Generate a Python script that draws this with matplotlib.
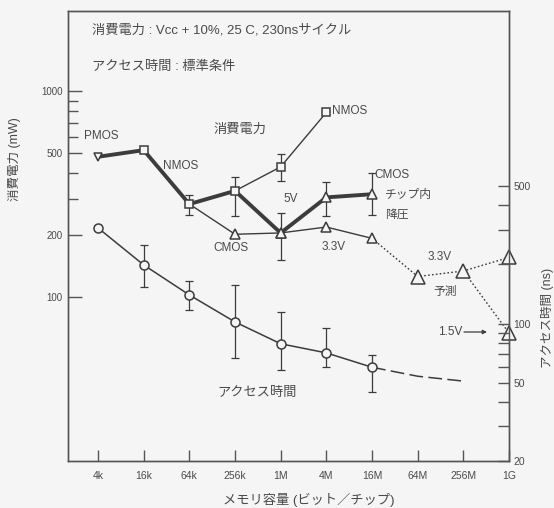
import matplotlib
matplotlib.use("Agg")
import matplotlib.pyplot as plt
from matplotlib.ticker import FixedLocator, NullFormatter, FixedFormatter

plt.rcParams['font.family'] = ['Liberation Sans', 'Noto Sans CJK JP']

# ---- data -------------------------------------------------------------
capacity = ['4k', '16k', '64k', '256k', '1M', '4M', '16M', '64M', '256M', '1G']

# power (mW): main trend PMOS -> NMOS -> 5V CMOS
main_idx = [0, 1, 2, 3, 4, 5, 6]
main_pw = [480, 517, 283, 328, 205, 305, 316]
# NMOS branch
nmos_idx = [3, 4, 5]
nmos_pw = [328, 429, 788]
# 3.3V CMOS branch
cmos33_idx = [2, 3, 4, 5, 6]
cmos33_pw = [283, 202, 205, 219, 193]
# forecast (dotted)
fc33_idx = [6, 7, 8, 9]
fc33_pw = [193, 126, 134, 156]
fc15_idx = [8, 9]
fc15_pw = [134, 67]

# power spread
pw_err_idx = [2, 3, 4, 4, 5, 6]
pw_err_mid = [283, 328, 429, 205, 305, 316]
pw_err_lo = [250, 247, 367, 152, 247, 250]
pw_err_hi = [313, 384, 494, 256, 363, 399]

# access time (ns)
acc_idx = [0, 1, 2, 3, 4, 5, 6]
acc_ns = [307, 199, 140, 102, 79, 71, 60]
acc_lo = [307, 153, 117, 67, 58, 60, 45]
acc_hi = [307, 251, 164, 158, 114, 95, 69]
acc_fc_idx = [6, 7, 8]
acc_fc_ns = [60, 54, 51]

# ---- style ------------------------------------------------------------
bg = '#f5f5f5'
ink = '#3c3c3c'
txt = '#4a4a4a'
W, H = 554, 508

fig = plt.figure(figsize=(W / 100, H / 100), dpi=100, facecolor=bg)
ax = fig.add_axes([68 / W, 1 - 461 / H, (509 - 68) / W, (461 - 11) / H])
ax.set_facecolor(bg)
ax2 = ax.twinx()

ax.set_xlim(-0.657, 9.0)
ax.set_yscale('log')
ax.set_ylim(16.04, 2447)
ax2.set_yscale('log')
ax2.set_ylim(20, 3900)

for a in (ax, ax2):
    for s in a.spines.values():
        s.set_color('#555555')
        s.set_linewidth(1.0)

# x axis
ax.set_xticks(range(len(capacity)))
ax.set_xticklabels(capacity)
ax.tick_params(axis='x', direction='in', length=8, width=1, color='#555555',
               labelsize=7.5, labelcolor=txt, pad=7)

# left axis
ax.yaxis.set_major_locator(FixedLocator([100, 200, 500, 1000]))
ax.yaxis.set_major_formatter(FixedFormatter(['100', '200', '500', '1000']))
ax.yaxis.set_minor_locator(FixedLocator([300, 400, 600, 700, 800, 900]))
ax.yaxis.set_minor_formatter(NullFormatter())
ax.tick_params(axis='y', which='major', direction='in', length=10, width=1,
               color='#555555', labelsize=7, labelcolor=txt, pad=4)
ax.tick_params(axis='y', which='minor', direction='in', length=7, width=1,
               color='#555555')

# right axis
ax2.yaxis.set_major_locator(FixedLocator([20, 50, 100, 500]))
ax2.yaxis.set_major_formatter(FixedFormatter(['20', '50', '100', '500']))
ax2.yaxis.set_minor_locator(FixedLocator([30, 40, 60, 70, 80, 90, 200, 300, 400]))
ax2.yaxis.set_minor_formatter(NullFormatter())
ax2.tick_params(axis='y', which='major', direction='in', length=8, width=1,
                color='#555555', labelsize=7.5, labelcolor=txt, pad=3)
ax2.tick_params(axis='y', which='minor', direction='in', length=8, width=1,
                color='#555555')

mk = dict(markerfacecolor=bg, markeredgecolor=ink, markeredgewidth=1.1)

# ---- access time curve (right axis) -----------------------------------
ax2.errorbar(acc_idx[1:], acc_ns[1:],
             yerr=[[m - l for m, l in zip(acc_ns[1:], acc_lo[1:])],
                   [h - m for m, h in zip(acc_ns[1:], acc_hi[1:])]],
             fmt='none', ecolor=ink, elinewidth=0.9, capsize=3, capthick=0.9, zorder=2)
ax2.plot(acc_fc_idx, acc_fc_ns, color=ink, lw=1.1, ls=(0, (9, 3.5)), zorder=2)
ax2.plot(acc_idx, acc_ns, color=ink, lw=1.1, marker='o', ms=6.5, zorder=3, **mk)

# ---- power curves (left axis) -----------------------------------------
ax.errorbar(pw_err_idx, pw_err_mid,
            yerr=[[m - l for m, l in zip(pw_err_mid, pw_err_lo)],
                  [h - m for m, h in zip(pw_err_mid, pw_err_hi)]],
            fmt='none', ecolor=ink, elinewidth=0.9, capsize=3, capthick=0.9, zorder=2)
ax.plot(fc33_idx, fc33_pw, color=ink, lw=1.0, ls=(0, (1.2, 1.6)), zorder=2)
ax.plot(fc15_idx, fc15_pw, color=ink, lw=1.0, ls=(0, (1.2, 1.6)), zorder=2)
ax.plot(cmos33_idx, cmos33_pw, color=ink, lw=1.0, zorder=3)
ax.plot(nmos_idx, nmos_pw, color=ink, lw=1.0, zorder=3)
ax.plot(main_idx, main_pw, color=ink, lw=2.8, zorder=4, solid_capstyle='butt')

ax.plot(main_idx[:1], main_pw[:1], ls='none', marker='v', ms=6, zorder=5, clip_on=False, **mk)
ax.plot(main_idx[1:4], main_pw[1:4], ls='none', marker='s', ms=5.5, zorder=5, **mk)
ax.plot(nmos_idx[1:], nmos_pw[1:], ls='none', marker='s', ms=5.5, zorder=5, **mk)
ax.plot(main_idx[4:], main_pw[4:], ls='none', marker='^', ms=6.5, zorder=5, **mk)
ax.plot(cmos33_idx[1:], cmos33_pw[1:], ls='none', marker='^', ms=6.5, zorder=5, **mk)
ax.plot(fc33_idx[1:], fc33_pw[1:], ls='none', marker='^', ms=9.5, zorder=5, clip_on=False, **mk)
ax.plot(fc15_idx[1:], fc15_pw[1:], ls='none', marker='^', ms=9.5, zorder=5, clip_on=False, **mk)

# ---- text ----------------------------------------------------------------
def px(x, y, s, size=8.5, **kw):
    fig.text(x / W, 1 - y / H, s, fontsize=size, color=txt, va='center', **kw)

px(92, 30, '消費電力 : Vcc + 10%, 25 C, 230nsサイクル', 9.5)
px(92, 67, 'アクセス時間 : 標準条件', 9.5)
px(213, 130, '消費電力', 9.5)
px(84, 136, 'PMOS', 8.5)
px(163, 166, 'NMOS', 8.5)
px(213, 248, 'CMOS', 8.5)
px(332, 111, 'NMOS', 8.5)
px(283, 199, '5V', 8.5)
px(374, 175, 'CMOS', 8.5)
px(385, 195, 'チップ内', 8.5)
px(385, 215, '降圧', 8.5)
px(322, 247, '3.3V', 8.5)
px(428, 257, '3.3V', 8.5)
px(433, 292, '予測', 8.5)
px(438, 332, '1.5V', 8.5)
px(217, 393, 'アクセス時間', 9.5)
ax.annotate('', xy=(487 / W, 1 - 332 / H), xytext=(464 / W, 1 - 332 / H),
            xycoords='figure fraction', textcoords='figure fraction',
            arrowprops=dict(arrowstyle='-|>', color=ink, lw=0.9,
                            mutation_scale=6, shrinkA=0, shrinkB=0))

fig.text(309 / W, 1 - 500 / H, 'メモリ容量 (ビット／チップ)', fontsize=9.5,
         color=txt, ha='center', va='center')
fig.text(15 / W, 1 - 159 / H, '消費電力 (mW)', fontsize=9, color=txt,
         ha='center', va='center', rotation=90)
fig.text(548 / W, 1 - 318 / H, 'アクセス時間 (ns)', fontsize=9, color=txt,
         ha='center', va='center', rotation=90)

fig.savefig('out.png', dpi=100, facecolor=bg)
